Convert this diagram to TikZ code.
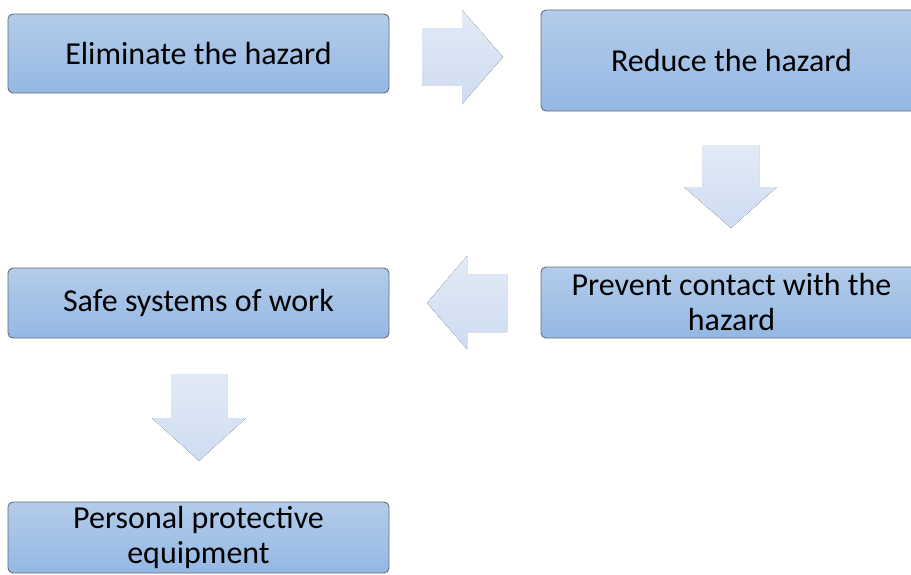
\documentclass[tikz,border=0pt]{standalone}
\usepackage{fontspec}
\setmainfont{Carlito}
\definecolor{boxtop}{RGB}{179,204,234}
\definecolor{boxbot}{RGB}{148,184,227}
\definecolor{boxline}{RGB}{100,108,120}
\definecolor{arrtop}{RGB}{226,234,246}
\definecolor{arrbot}{RGB}{206,220,241}
\tikzset{
	hzbox/.style={draw=boxline, line width=0.9pt, rounded corners=5pt,
		top color=boxtop, bottom color=boxbot, minimum width=381,
		inner sep=0pt, outer sep=0pt, align=center,
		font=\fontsize{32}{35}\selectfont},
	blockarrow/.style={top color=arrtop, bottom color=arrbot, draw=none}
}

\begin{document}
\begin{tikzpicture}[x=1pt, y=-1pt]
			%%%%% START %%%%%
			
			\useasboundingbox (0, 0) rectangle (911, 574);
			
			\node[hzbox, minimum height=79] (elim) at (198.5, 53.5) {Eliminate the hazard};
			\node[hzbox, minimum height=101] (reduce) at (731.5, 60.5) {Reduce the hazard};
			\node[hzbox, minimum height=71] (prevent) at (731.5, 302.5) {Prevent contact with the\\hazard};
			\node[hzbox, minimum height=70] (safe) at (198.5, 303) {Safe systems of work};
			\node[hzbox, minimum height=71] (ppe) at (198.5, 537.5) {Personal protective\\equipment};
			
			\fill[blockarrow] (422, 28) -- (462, 28) -- (462, 10) -- (503, 57) -- (462, 104) -- (462, 85) -- (422, 85) -- cycle;
			
			\fill[blockarrow] (702, 145) -- (759, 145) -- (759, 187) -- (777, 187) -- (731, 228) -- (684, 187) -- (702, 187) -- cycle;
			
			\fill[blockarrow] (507, 274) -- (467, 274) -- (467, 256) -- (427, 303) -- (467, 349) -- (467, 332) -- (507, 332) -- cycle;
			
			\fill[blockarrow] (171, 374) -- (227, 374) -- (227, 418) -- (246, 418) -- (199, 461) -- (152, 418) -- (171, 418) -- cycle;
			
			%%%%% END %%%%%
\end{tikzpicture}
\end{document}
